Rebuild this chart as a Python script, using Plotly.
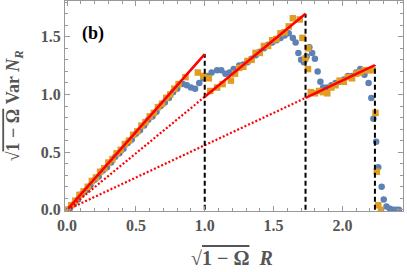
import plotly.graph_objects as go
import math

# Blue series (circles)
blue_x = [0.00,0.02,0.05,0.08,0.11,0.14,0.17,0.20,0.23,0.26,0.29,0.32,0.35,0.38,0.41,0.44,0.47,0.50,0.53,0.56,0.59,0.62,0.65,0.68,0.71,0.74,0.77,0.80,
          0.84,0.87,0.90,0.93,0.96,0.99,1.02,1.05,1.09,1.12,1.15,1.18,1.21,1.25,
          1.28,1.31,1.34,1.37,1.40,1.43,1.46,1.49,1.52,1.55,1.58,1.61,
          1.64,1.66,1.68,1.70,1.72,1.74,1.76,1.78,1.80,1.82,1.84,1.86,
          1.89,1.92,1.95,1.98,2.01,2.04,2.07,2.10,2.13,2.16,2.19,2.21,2.225,2.245,2.26,2.285,2.30,2.32,2.345,2.37,2.39,2.41]
blue_y = [0.00,0.01,0.05,0.09,0.14,0.17,0.21,0.26,0.29,0.34,0.37,0.41,0.46,0.49,0.53,0.58,0.61,0.66,0.69,0.73,0.78,0.81,0.85,0.90,0.93,0.97,1.02,1.05,
          1.09,1.08,1.06,1.05,1.10,1.14,1.16,1.19,1.21,1.21,1.18,1.19,1.22,1.25,
          1.26,1.28,1.31,1.34,1.37,1.40,1.43,1.45,1.47,1.49,1.51,1.53,
          1.49,1.45,1.36,1.30,1.28,1.33,1.41,1.36,1.31,1.20,1.11,1.06,
          1.06,1.08,1.10,1.11,1.13,1.16,1.16,1.19,1.22,1.17,1.10,0.97,0.79,0.59,0.37,0.20,0.09,0.03,0.01,0.00,0.00,0.00]

# Orange series (squares)
orange_x = [0.00,0.03,0.06,0.09,0.12,0.15,0.18,0.21,0.24,0.27,0.30,0.33,0.36,0.39,0.42,0.45,0.48,0.51,0.54,0.57,0.60,0.63,0.66,0.69,0.72,0.75,0.78,0.81,
            0.86,0.95,0.99,1.03,1.04,1.09,1.13,1.19,
            1.22,1.25,1.28,1.31,1.34,1.37,1.40,1.43,1.46,1.49,1.52,1.55,1.58,1.61,1.64,1.69,1.71,1.73,1.75,1.75,
            1.77,1.80,1.83,1.86,1.89,1.92,1.95,1.98,2.01,2.04,2.07,2.10,2.13,2.16,2.19,2.22,2.24,2.25,2.26,2.28]
orange_y = [0.00,0.04,0.08,0.13,0.16,0.20,0.25,0.28,0.33,0.36,0.41,0.44,0.49,0.52,0.57,0.60,0.65,0.68,0.73,0.76,0.81,0.84,0.89,0.92,0.97,1.00,1.05,1.09,
            1.15,1.19,1.16,1.14,1.03,1.06,1.09,1.12,
            1.18,1.23,1.24,1.29,1.30,1.36,1.36,1.42,1.42,1.47,1.48,1.53,1.54,1.59,1.66,1.65,1.49,1.31,1.40,1.22,
            1.02,1.01,1.03,1.02,1.01,1.06,1.08,1.12,1.11,1.15,1.14,1.18,1.19,1.21,1.21,1.21,0.84,0.33,0.04,0.00]

# Theory segments
seg_x0 = [0.0, 1.0, math.sqrt(3)]
seg_x1 = [1.0, math.sqrt(3), math.sqrt(5)]
seg_y0 = [0.0, 0.98, 0.97]
seg_y1 = [1.35, 1.70, 1.255]

BLUE = "#5E81B5"
ORANGE = "#E19C24"
GRAY = "#999999"
TXT = "#555555"
FONT = "Liberation Serif"

fig = go.Figure()
fig.add_trace(go.Scatter(x=blue_x, y=blue_y, mode="markers",
                         marker=dict(color=BLUE, size=6.5, symbol="circle", line=dict(width=0)),
                         showlegend=False))
fig.add_trace(go.Scatter(x=orange_x, y=orange_y, mode="markers",
                         marker=dict(color=ORANGE, size=6.5, symbol="square", line=dict(width=0)),
                         showlegend=False))

# dotted lines from origin to start of segments 2, 3
for i in [1, 2]:
    fig.add_trace(go.Scatter(x=[0, seg_x0[i]], y=[0, seg_y0[i]], mode="lines",
                             line=dict(color="red", width=2.2, dash="2px,2px"), showlegend=False))
# vertical dashed black lines
for i in range(3):
    fig.add_trace(go.Scatter(x=[seg_x1[i], seg_x1[i]], y=[0, seg_y1[i]], mode="lines",
                             line=dict(color="black", width=2, dash="5px,3px"), showlegend=False))
# red solid segments
for i in range(3):
    fig.add_trace(go.Scatter(x=[seg_x0[i], seg_x1[i]], y=[seg_y0[i], seg_y1[i]], mode="lines",
                             line=dict(color="red", width=2.5), showlegend=False))

axis_common = dict(showline=True, linecolor=GRAY, linewidth=1, mirror="ticks",
                   ticks="inside", ticklen=5, tickcolor=GRAY, tickwidth=1,
                   showgrid=False, zeroline=False, dtick=0.5, tickformat=".1f",
                   automargin=False,
                   tickfont=dict(family=FONT, size=16, color=TXT, weight="bold"),
                   minor=dict(dtick=0.1, ticks="inside", ticklen=3, tickcolor=GRAY, showgrid=False))

fig.update_xaxes(range=[-0.015, 2.44], **axis_common)
fig.update_yaxes(range=[-0.01, 1.81], **axis_common)

# axis titles as annotations
fig.add_annotation(xref="paper", yref="paper", x=0.493, y=-0.225, yanchor="middle",
                   text="<b>√<span style='text-decoration:overline'>1 − Ω</span>&nbsp;&nbsp;<i>R</i></b>",
                   showarrow=False, font=dict(family=FONT, size=20, color=TXT))
fig.add_annotation(xref="paper", yref="paper", x=-0.15, y=0.5, xanchor="center", textangle=-90,
                   text="<b>√<span style='text-decoration:overline'>1 − Ω</span> Var <i>N<sub>R</sub></i></b>",
                   showarrow=False, font=dict(family=FONT, size=18, color=TXT))

fig.add_annotation(x=0.19, y=1.53, xref="x", yref="y", text="<b>(b)</b>", showarrow=False,
                   font=dict(family=FONT, size=18, color="black"))

fig.update_layout(width=407, height=272, margin=dict(l=65, r=4, t=1, b=61),
                  paper_bgcolor="white", plot_bgcolor="white")

fig.write_html("out.html", config={"displayModeBar": False},
               post_script="document.body.style.margin='0';document.body.style.padding='0';")
